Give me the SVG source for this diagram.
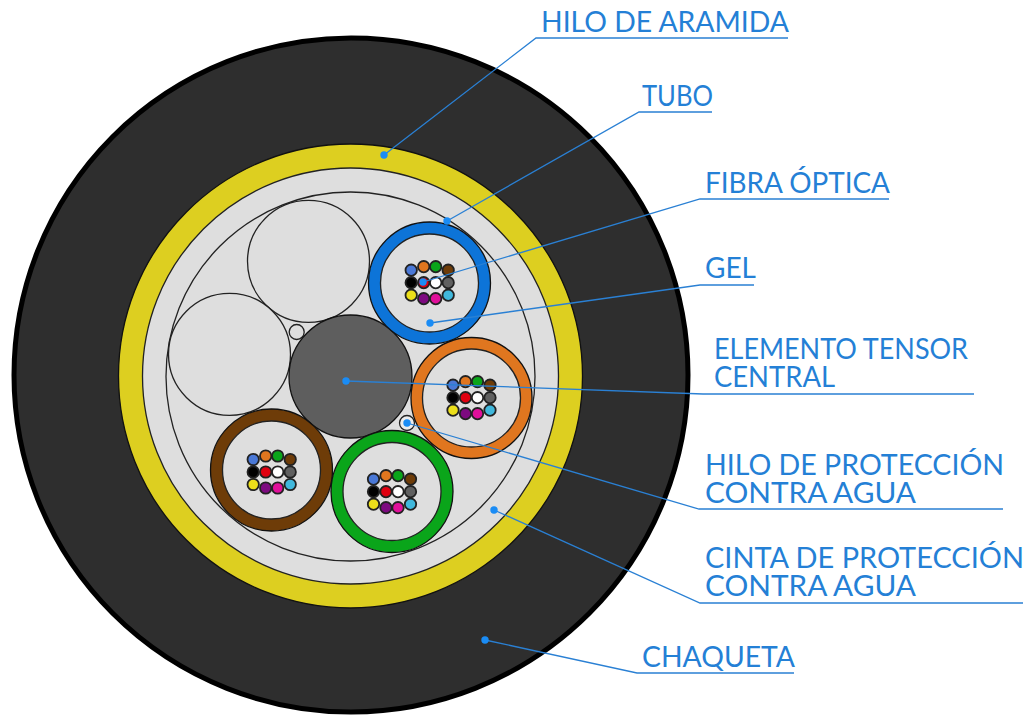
<svg xmlns="http://www.w3.org/2000/svg" xmlns:xlink="http://www.w3.org/1999/xlink" width="1032" height="715" viewBox="0 0 1032 715">
  <style>
    .o { stroke: #111; stroke-width: 1.3; }
    .gel { fill: #dedede; stroke: #222; stroke-width: 1.3; }
    .f { stroke: #222; stroke-width: 1.8; }
    .lead { fill: none; stroke: #2a80d4; stroke-width: 1.3; }
    .dot { fill: #1a8cf5; }
    text { font-family: "Lato", "Open Sans", "Liberation Sans", sans-serif; font-weight: 400; font-size: 28px; fill: #2480d6; }
  </style>
  <defs>
    <!-- twelve coloured fibres, centred on the origin -->
    <g id="fibres">
      <circle class="f" cx="-18.5" cy="-12.5" r="5.7" fill="#4a78d6"/>
      <circle class="f" cx="-6" cy="-16" r="5.7" fill="#e0761f"/>
      <circle class="f" cx="6" cy="-16" r="5.7" fill="#0aa51a"/>
      <circle class="f" cx="18.5" cy="-12.5" r="5.7" fill="#6e3c08"/>
      <circle class="f" cx="-18.5" cy="0" r="5.7" fill="#000"/>
      <circle class="f" cx="-6" cy="0" r="5.7" fill="#e00010"/>
      <circle class="f" cx="6" cy="0" r="5.7" fill="#fff"/>
      <circle class="f" cx="18.5" cy="0" r="5.7" fill="#606060"/>
      <circle class="f" cx="-18.5" cy="12.5" r="5.7" fill="#ecdf1a"/>
      <circle class="f" cx="-6" cy="16" r="5.7" fill="#7d0a80"/>
      <circle class="f" cx="6" cy="16" r="5.7" fill="#e0109a"/>
      <circle class="f" cx="18.5" cy="12.5" r="5.7" fill="#40b8dc"/>
    </g>
  </defs>

  <rect width="1032" height="715" fill="#fff"/>

  <g id="chaqueta"><circle cx="351" cy="375" r="337" fill="#2e2e2e" stroke="#000" stroke-width="5"/></g>
  <g id="cinta"><circle class="o" cx="350.5" cy="376" r="232" fill="#ddcf20"/></g>
  <g id="relleno"><circle class="gel" cx="350.5" cy="376" r="208"/></g>
  <g id="nucleo"><circle class="gel" cx="350.5" cy="376.5" r="184.5"/></g>

  <g id="rellenos-vacios">
    <circle class="gel" cx="308.5" cy="261.3" r="61"/>
    <circle class="gel" cx="229.5" cy="354.3" r="61"/>
  </g>
  <g id="hilos">
    <circle class="gel" cx="296.7" cy="332" r="7.5"/>
    <circle class="gel" cx="407" cy="423" r="7.5" style="fill:#ececec"/>
  </g>
  <g id="elemento-central"><circle cx="350.5" cy="376.5" r="61.5" fill="#5e5e5e" stroke="#111" stroke-width="1.3"/></g>

  <g id="tubo-azul">
    <circle class="o" cx="429.5" cy="283" r="61" fill="#0d74d8"/>
    <circle class="gel" cx="429.5" cy="283" r="49"/>
    <use xlink:href="#fibres" href="#fibres" x="429.7" y="282.7"/>
  </g>
  <g id="tubo-naranja">
    <circle class="o" cx="471.5" cy="398" r="60.5" fill="#e0761f"/>
    <circle class="gel" cx="471.5" cy="398" r="49"/>
    <use xlink:href="#fibres" href="#fibres" x="471.5" y="397.7"/>
  </g>
  <g id="tubo-cafe">
    <circle class="o" cx="271.5" cy="470" r="61" fill="#6e3c08"/>
    <circle class="gel" cx="271.5" cy="470" r="49"/>
    <use xlink:href="#fibres" href="#fibres" x="271.7" y="472"/>
  </g>
  <g id="tubo-verde">
    <circle class="o" cx="392" cy="491.5" r="61" fill="#0aa51a"/>
    <circle class="gel" cx="392" cy="491.5" r="49"/>
    <use xlink:href="#fibres" href="#fibres" x="392" y="491.7"/>
  </g>

  <g id="conectores">
    <polyline class="lead" points="384,155 536,38 788,38"/>
    <polyline class="lead" points="447,221 639,112 712,112"/>
    <polyline class="lead" points="423,282 700,199 889,199"/>
    <polyline class="lead" points="430,323 700,285 754,285"/>
    <polyline class="lead" points="346,381 703,394 974,394"/>
    <polyline class="lead" points="407,423 699,509 1003,509"/>
    <polyline class="lead" points="494,510 700,603 1023,603"/>
    <polyline class="lead" points="485,640 637,673 794,673"/>
    <circle class="dot" cx="384" cy="155" r="3.7"/>
    <circle class="dot" cx="447" cy="221" r="3.7"/>
    <circle class="dot" cx="423" cy="282" r="3.7"/>
    <circle class="dot" cx="430" cy="323" r="3.7"/>
    <circle class="dot" cx="346" cy="381" r="3.7"/>
    <circle class="dot" cx="407" cy="423" r="3.7"/>
    <circle class="dot" cx="494" cy="510" r="3.7"/>
    <circle class="dot" cx="485" cy="640" r="3.7"/>
  </g>

  <g id="etiquetas">
    <text x="541" y="32" textLength="248" lengthAdjust="spacingAndGlyphs">HILO DE ARAMIDA</text>
    <text x="642" y="106" textLength="71" lengthAdjust="spacingAndGlyphs">TUBO</text>
    <text x="705" y="193" textLength="185" lengthAdjust="spacingAndGlyphs">FIBRA ÓPTICA</text>
    <text x="705" y="278" textLength="51" lengthAdjust="spacingAndGlyphs">GEL</text>
    <text><tspan x="714" y="359" textLength="254" lengthAdjust="spacingAndGlyphs">ELEMENTO TENSOR</tspan><tspan x="714" y="387" textLength="121" lengthAdjust="spacingAndGlyphs">CENTRAL</tspan></text>
    <text><tspan x="705" y="475" textLength="299" lengthAdjust="spacingAndGlyphs">HILO DE PROTECCIÓN</tspan><tspan x="705" y="503" textLength="211" lengthAdjust="spacingAndGlyphs">CONTRA AGUA</tspan></text>
    <text><tspan x="705" y="568" textLength="319" lengthAdjust="spacingAndGlyphs">CINTA DE PROTECCIÓN</tspan><tspan x="705" y="596" textLength="211" lengthAdjust="spacingAndGlyphs">CONTRA AGUA</tspan></text>
    <text x="642" y="667" textLength="153" lengthAdjust="spacingAndGlyphs">CHAQUETA</text>
  </g>
</svg>
